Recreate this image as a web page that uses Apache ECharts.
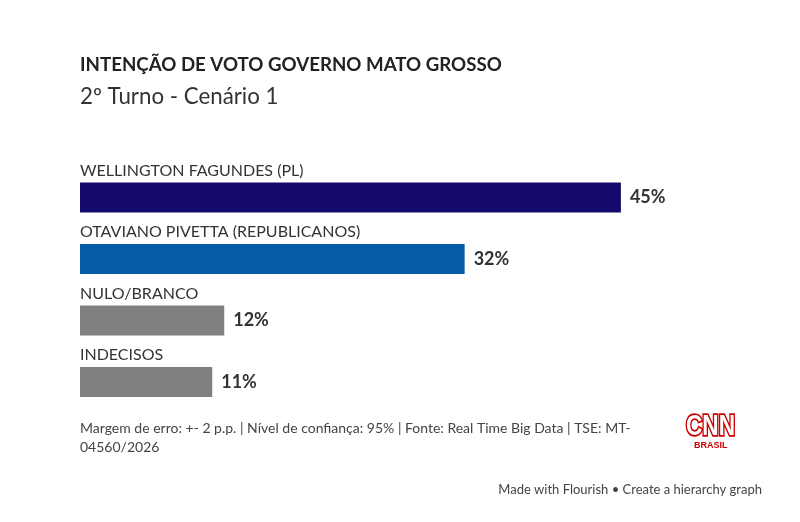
<!DOCTYPE html>
<html><head><meta charset="utf-8">
<script src="https://cdn.jsdelivr.net/npm/echarts@6/dist/echarts.min.js"></script>
<style>html,body{margin:0;padding:0;background:#fff}#c{width:800px;height:522px}</style>
</head><body><div id="c"></div>
<script>
const categories = ['WELLINGTON FAGUNDES (PL)', 'OTAVIANO PIVETTA (REPUBLICANOS)', 'NULO/BRANCO', 'INDECISOS'];
const values = [45, 32, 12, 11];
const barColors = ['#140a6e', '#055ca6', '#808080', '#808080'];
const titleText = 'INTENÇÃO DE VOTO GOVERNO MATO GROSSO';
const subtitleText = '2º Turno - Cenário 1';
const footerLines = ['Margem de erro: +- 2 p.p. | Nível de confiança: 95% | Fonte: Real Time Big Data | TSE: MT-', '04560/2026'];
const creditText = 'Made with Flourish • Create a hierarchy graph';

const FONT = 'Lato';
const chart = echarts.init(document.getElementById('c'));
chart.setOption({
  backgroundColor: '#fff',
  animation: false,
  title: [
    { text: titleText, left: 80, top: 55, padding: 0, textStyle: { fontFamily: FONT, fontSize: 18.7, fontWeight: 'bold', color: '#222' } },
    { text: subtitleText, left: 80, top: 86, padding: 0, textStyle: { fontFamily: FONT, fontSize: 22.3, fontWeight: 'normal', color: '#333' } }
  ],
  grid: { left: 80, right: 119, top: 166.75, bottom: 522 - 412.75, containLabel: false },
  xAxis: { type: 'value', min: 0, max: 50, show: false },
  yAxis: {
    type: 'category', data: categories, inverse: true,
    axisLine: { show: false }, axisTick: { show: false }, splitLine: { show: false },
    axisLabel: { inside: true, margin: 0, align: 'left', verticalAlign: 'bottom', padding: [0, 0, 19, 0],
      fontFamily: FONT, fontSize: 16, color: '#333' }
  },
  series: [{
    type: 'bar', barWidth: 30,
    data: values.map((v, i) => ({ value: v, itemStyle: { color: barColors[i] } })),
    label: { show: true, position: 'right', distance: 9, formatter: '{c}%', fontFamily: FONT, fontSize: 18, fontWeight: 'bold', color: '#333' }
  }],
  graphic: [
    { type: 'text', left: 80, top: 419, style: { text: footerLines.join('\n'), font: '14px ' + FONT, fill: '#444', lineHeight: 19 } },
    { type: 'text', x: 686, y: 412, scaleX: 0.78, style: { text: 'CNN', font: 'bold 29px "Liberation Sans Narrow", Arial', fill: '#fff', stroke: '#cc0000', lineWidth: 3.5, letterSpacing: -3 } },
    { type: 'text', left: 694, top: 441, style: { text: 'BRASIL', font: 'bold 9px Arial', fill: '#cc0000' } },
    { type: 'text', right: 38, top: 483, style: { text: creditText, font: '13px ' + FONT, fill: '#444' } }
  ]
});
</script></body></html>
